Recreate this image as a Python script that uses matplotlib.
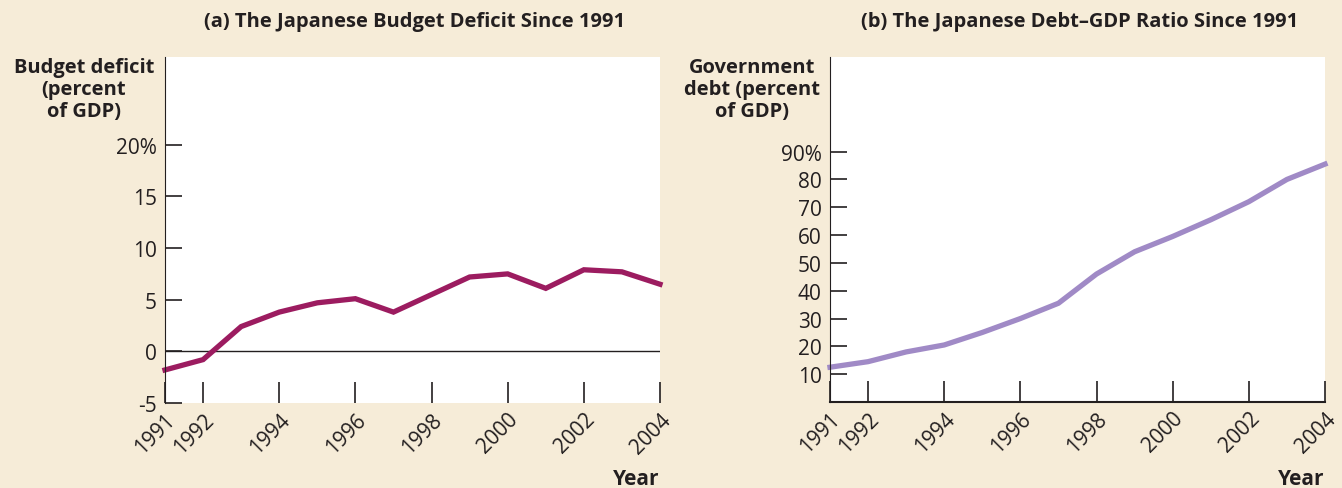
import matplotlib as mpl
mpl.use('Agg')
import matplotlib.pyplot as plt

years = [1991, 1992, 1993, 1994, 1995, 1996, 1997, 1998, 1999, 2000, 2001, 2002, 2003, 2004]
deficit = [-1.8, -0.8, 2.4, 3.8, 4.7, 5.1, 3.8, 5.5, 7.2, 7.5, 6.1, 7.9, 7.7, 6.5]
debt = [12.5, 14.5, 18.0, 20.5, 25.0, 30.0, 35.5, 46.0, 54.0, 59.5, 65.5, 72.0, 80.0, 85.5]

year_ticks = [1991, 1992, 1994, 1996, 1998, 2000, 2002, 2004]
deficit_ticks = [-5, 0, 5, 10, 15, 20]
deficit_labels = ['-5', '0', '5', '10', '15', '20%']
debt_ticks = [10, 20, 30, 40, 50, 60, 70, 80, 90]
debt_labels = ['10', '20', '30', '40', '50', '60', '70', '80', '90%']

bg = '#f6ecd8'
ink = '#231f20'
plt.rcParams['font.family'] = ['Open Sans', 'DejaVu Sans']

fig = plt.figure(figsize=(13.42, 4.89), dpi=100, facecolor=bg)
W, H = 1342, 489

def px_axes(x0, y0, x1, y1):
    return fig.add_axes([x0 / W, 1 - y1 / H, (x1 - x0) / W, (y1 - y0) / H])

def style(ax):
    ax.set_facecolor('white')
    for s in ['top', 'right']:
        ax.spines[s].set_visible(False)
    ax.spines['left'].set_color(ink)
    ax.spines['bottom'].set_color(ink)
    ax.tick_params(axis='y', direction='in', length=12, width=1.2, color=ink,
                   labelsize=15, labelcolor=ink, pad=6)
    ax.tick_params(axis='x', direction='in', length=15, width=1.2, color=ink,
                   labelsize=15, labelcolor=ink, pad=4)
    ax.set_xlim(1991, 2004)
    ax.set_xticks(year_ticks)
    ax.set_xticklabels([str(y) for y in year_ticks], rotation=45, ha='right',
                       rotation_mode='anchor')

# (a) budget deficit
ax1 = px_axes(165, 58, 660, 404)
style(ax1)
ax1.spines['bottom'].set_visible(False)
ax1.set_ylim(-5, 28.5)
ax1.set_yticks(deficit_ticks)
ax1.set_yticklabels(deficit_labels)
ax1.axhline(0, color=ink, lw=1)
ax1.plot(years, deficit, color='#9c1c60', lw=3.8, solid_joinstyle='miter', clip_on=False)

# (b) debt-GDP ratio
ax2 = px_axes(830, 58, 1325, 403)
style(ax2)
ax2.spines['bottom'].set_linewidth(1.5)
ax2.set_ylim(0, 124)
ax2.set_yticks(debt_ticks)
ax2.set_yticklabels(debt_labels)
ax2.plot(years, debt, color='#a08ac6', lw=3.8, clip_on=False)

fig.text(415 / W, 1 - 22 / H, '(a) The Japanese Budget Deficit Since 1991',
         ha='center', va='center', fontsize=14.5, fontweight='bold', color=ink)
fig.text(1080 / W, 1 - 22 / H, '(b) The Japanese Debt\u2013GDP Ratio Since 1991',
         ha='center', va='center', fontsize=14.5, fontweight='bold', color=ink)

fig.text(84 / W, 1 - 58 / H, 'Budget deficit\n(percent\nof GDP)', ha='center', va='top',
         fontsize=14.5, fontweight='bold', color=ink, linespacing=1.15)
fig.text(752 / W, 1 - 58 / H, 'Government\ndebt (percent\nof GDP)', ha='center', va='top',
         fontsize=14.5, fontweight='bold', color=ink, linespacing=1.15)

fig.text(659 / W, 1 - 480 / H, 'Year', ha='right', va='center',
         fontsize=15, fontweight='bold', color=ink)
fig.text(1324 / W, 1 - 480 / H, 'Year', ha='right', va='center',
         fontsize=15, fontweight='bold', color=ink)

fig.savefig('out.png', dpi=100, facecolor=bg)
